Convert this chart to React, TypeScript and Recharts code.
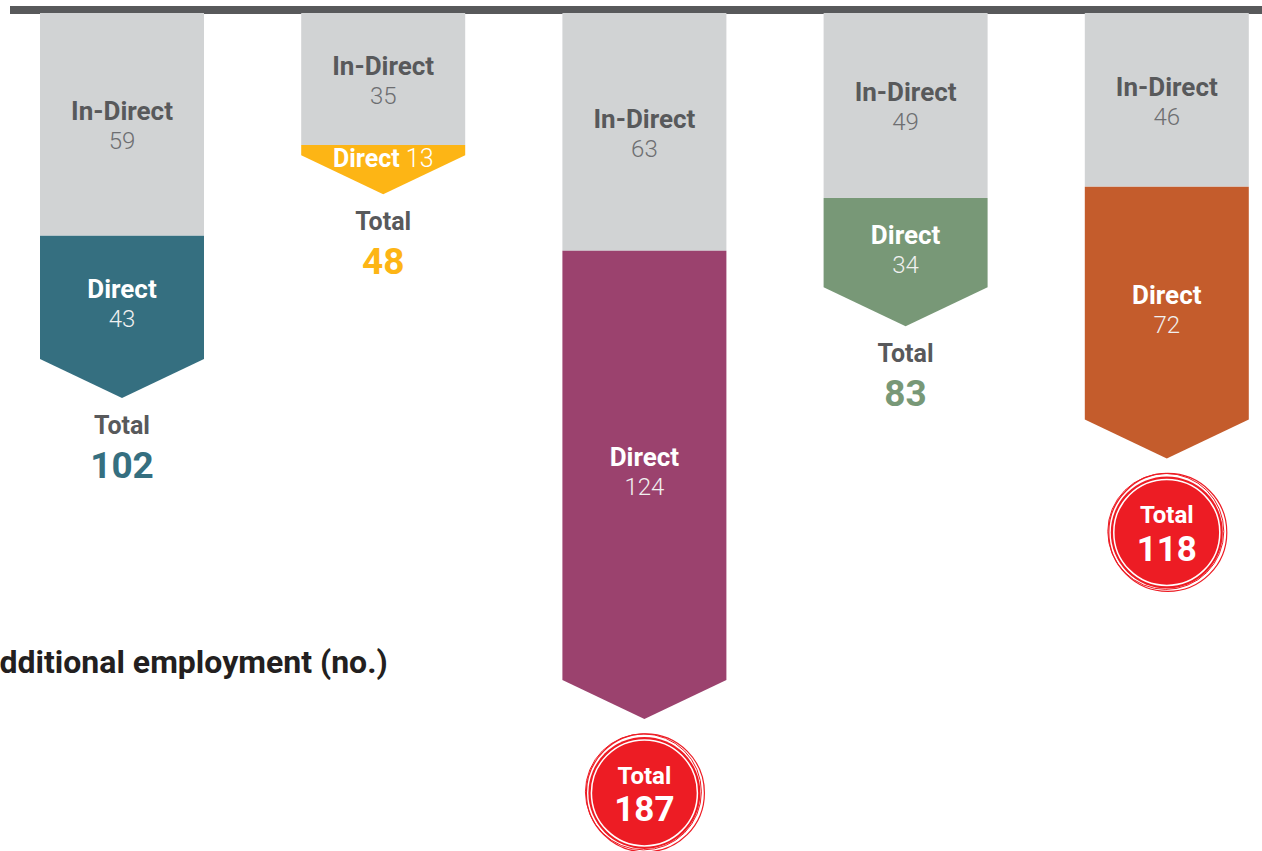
import { BarChart, Bar, XAxis, YAxis } from "recharts";

// ─── Data ─────────────────────────────────────────────────────────────────────

const categories = ["1", "2", "3", "4", "5"];
const indirect = [59, 35, 63, 49, 46];
const direct = [43, 13, 124, 34, 72];
const totals = [102, 48, 187, 83, 118];
const colors = ["#356f80", "#fdb515", "#9b426e", "#789877", "#c45c2c"];
const highlight = [false, false, true, false, true];

const rows = categories.map((name, i) => ({
  name,
  indirect: indirect[i],
  direct: direct[i],
  total: totals[i],
  color: colors[i],
  highlight: highlight[i],
}));

// ─── Styles ───────────────────────────────────────────────────────────────────

const FONT = "Roboto, 'Noto Sans', sans-serif";
const GREY_BAR = "#d1d3d4";
const GREY_TEXT = "#58595b";
const RED = "#ed1c24";
const ARROW = 39;

function span(y: number, h: number) {
  return [Math.min(y, y + h), Math.max(y, y + h)];
}

function IndirectShape(props: any) {
  const { x, y, width, height, payload } = props;
  const [top, bottom] = span(y, height);
  const cx = x + width / 2;
  const mid = (top + bottom) / 2;
  return (
    <g>
      <rect x={x} y={top} width={width} height={bottom - top} fill={GREY_BAR} />
      <text x={cx} y={mid - 13} textAnchor="middle" dominantBaseline="central"
        fontFamily={FONT} fontSize={26} fontWeight={700} fill={GREY_TEXT}>In-Direct</text>
      <text x={cx} y={mid + 17} textAnchor="middle" dominantBaseline="central"
        fontFamily={FONT} fontSize={24} fontWeight={300} fill="#6d6e71">{payload.indirect}</text>
    </g>
  );
}

function DirectShape(props: any) {
  const { x, y, width, height, payload } = props;
  const [top, tip] = span(y, height);
  const cx = x + width / 2;
  const base = tip - ARROW;
  const pts = `${x},${top} ${x + width},${top} ${x + width},${base} ${cx},${tip} ${x},${base}`;
  const small = base - top < 40;
  const mid = (top + base) / 2;

  return (
    <g>
      <polygon points={pts} fill={payload.color} />
      {small ? (
        <text x={cx} y={top + 13} textAnchor="middle" dominantBaseline="central"
          fontFamily={FONT} fontSize={25} fill="#fff">
          <tspan fontWeight={700}>Direct</tspan>
          <tspan fontWeight={300}> {payload.direct}</tspan>
        </text>
      ) : (
        <>
          <text x={cx} y={mid - 8} textAnchor="middle" dominantBaseline="central"
            fontFamily={FONT} fontSize={26} fontWeight={700} fill="#fff">Direct</text>
          <text x={cx} y={mid + 22} textAnchor="middle" dominantBaseline="central"
            fontFamily={FONT} fontSize={24} fontWeight={300} fill="#f0f0f0">{payload.direct}</text>
        </>
      )}
      {payload.highlight ? (
        <g>
          <circle cx={cx + 1} cy={tip + 74} r={59} fill="none" stroke={RED} strokeWidth={1.2} />
          <circle cx={cx - 1} cy={tip + 73} r={58} fill="none" stroke={RED} strokeWidth={1} />
          <circle cx={cx} cy={tip + 74} r={56} fill={RED} />
          <circle cx={cx} cy={tip + 74} r={53} fill="none" stroke="#fff" strokeWidth={1.5} />
          <text x={cx} y={tip + 57} textAnchor="middle" dominantBaseline="central"
            fontFamily={FONT} fontSize={24} fontWeight={700} fill="#fff">Total</text>
          <text x={cx} y={tip + 91} textAnchor="middle" dominantBaseline="central"
            fontFamily={FONT} fontSize={35} fontWeight={700} fill="#fff">{payload.total}</text>
        </g>
      ) : (
        <g>
          <text x={cx} y={tip + 27} textAnchor="middle" dominantBaseline="central"
            fontFamily={FONT} fontSize={25} fontWeight={700} fill={GREY_TEXT}>Total</text>
          <text x={cx} y={tip + 67} textAnchor="middle" dominantBaseline="central"
            fontFamily={FONT} fontSize={37} fontWeight={700} fill={payload.color}>{payload.total}</text>
        </g>
      )}
    </g>
  );
}

export default function App() {
  return (
    <div style={{ position: "absolute", left: 0, top: 0, width: 1262, height: 851, overflow: "hidden", background: "#fff" }}>
      <div style={{ position: "absolute", left: 10, top: 6, width: 1252, height: 8, background: GREY_TEXT }} />
      <div style={{ position: "absolute", left: -9, top: 0 }}>
        <BarChart width={1306} height={851} data={rows} margin={{ top: 13, right: 0, bottom: 0, left: 0 }}>
          <XAxis dataKey="name" hide />
          <YAxis hide reversed domain={[0, 222]} />
          <Bar dataKey="indirect" stackId="a" barSize={164} shape={IndirectShape} isAnimationActive={false} />
          <Bar dataKey="direct" stackId="a" barSize={164} shape={DirectShape} isAnimationActive={false} />
        </BarChart>
      </div>
      <div style={{ position: "absolute", left: -22, top: 643, fontFamily: FONT, fontWeight: 700, fontSize: 32, color: "#231f20", whiteSpace: "nowrap" }}>
        Additional employment (no.)
      </div>
    </div>
  );
}
